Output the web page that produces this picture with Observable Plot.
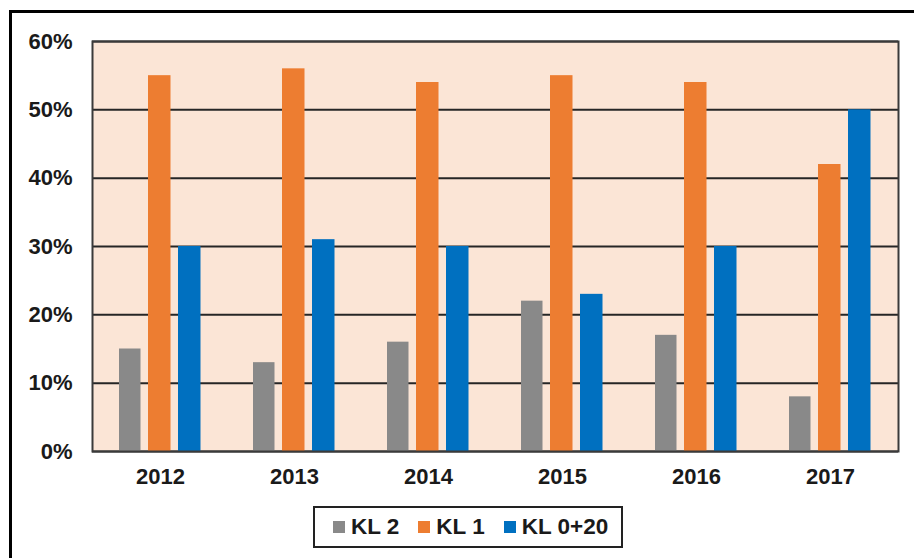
<!DOCTYPE html>
<html>
<head>
<meta charset="utf-8">
<script src="https://cdn.jsdelivr.net/npm/d3@7"></script>
<script src="https://cdn.jsdelivr.net/npm/@observablehq/plot@0.6"></script>
<style>
  body { margin: 0; background: #fff; font-family: "Liberation Sans", Arial, sans-serif; }
  #frame { position: absolute; left: 9px; top: 10px; width: 910px; height: 560px; border: 3px solid #000; }
  #chart { position: absolute; left: 0; top: 0; }
  #legend { position: absolute; left: 301px; top: 493px; width: 288px; height: 38px; border: 2px solid #222;
            display: flex; align-items: center; padding-left: 18px; box-sizing: content-box; white-space: nowrap;
            font-size: 22.5px; font-weight: bold; color: #1a1a1a; }
  #legend .item { display: flex; align-items: center; margin-right: 19px; flex-shrink: 0; white-space: nowrap; }
  #legend .item:last-child { margin-right: 0; }
  #legend .sw { width: 12px; height: 12px; margin-right: 6px; flex-shrink: 0; }
</style>
</head>
<body>
<div id="frame">
  <div id="chart"></div>
  <div id="legend"></div>
</div>
<script>
const years = ["2012", "2013", "2014", "2015", "2016", "2017"];
const seriesNames = ["KL 2", "KL 1", "KL 0+20"];
const kl2 = [0.15, 0.13, 0.16, 0.22, 0.17, 0.08];
const kl1 = [0.55, 0.56, 0.54, 0.55, 0.54, 0.42];
const kl020 = [0.30, 0.31, 0.30, 0.23, 0.30, 0.50];
const yTicks = [0, 0.1, 0.2, 0.3, 0.4, 0.5, 0.6];
const colors = ["#898989", "#ed7d31", "#0070c0"];

const seriesValues = [kl2, kl1, kl020];
const rows = (i) => years.map((y, j) => ({year: y, series: seriesNames[i], value: seriesValues[i][j]}));

const insets = [[26, 86.5], [55, 56.5], [85, 26.5]];

const plot = Plot.plot({
  width: 900,
  height: 483,
  marginLeft: 80,
  marginRight: 14,
  marginTop: 28,
  marginBottom: 45,
  style: {fontSize: "22px", fontWeight: "bold", fontFamily: "'Liberation Sans', Arial, sans-serif", color: "#1a1a1a", background: "transparent"},
  x: {domain: years, padding: 0, tickSize: 0, tickPadding: 17, label: null},
  y: {domain: [0, 0.6], ticks: yTicks, tickFormat: d3.format(".0%"), tickSize: 0, tickPadding: 20, label: null},
  marks: [
    Plot.frame({fill: "#fbe5d6", stroke: null}),
    Plot.ruleY(yTicks, {stroke: "#262626", strokeWidth: 2}),
    ...seriesNames.map((s, i) => Plot.barY(rows(i), {x: "year", y: "value", fill: colors[i], insetLeft: insets[i][0], insetRight: insets[i][1]})),
    Plot.frame({stroke: "#3a3a3a", strokeWidth: 2})
  ]
});
document.getElementById("chart").appendChild(plot);

const legend = document.getElementById("legend");
seriesNames.forEach((s, i) => {
  const item = document.createElement("div");
  item.className = "item";
  const sw = document.createElement("span");
  sw.className = "sw";
  sw.style.background = colors[i];
  const t = document.createElement("span");
  t.textContent = s;
  item.appendChild(sw);
  item.appendChild(t);
  legend.appendChild(item);
});
</script>
</body>
</html>
